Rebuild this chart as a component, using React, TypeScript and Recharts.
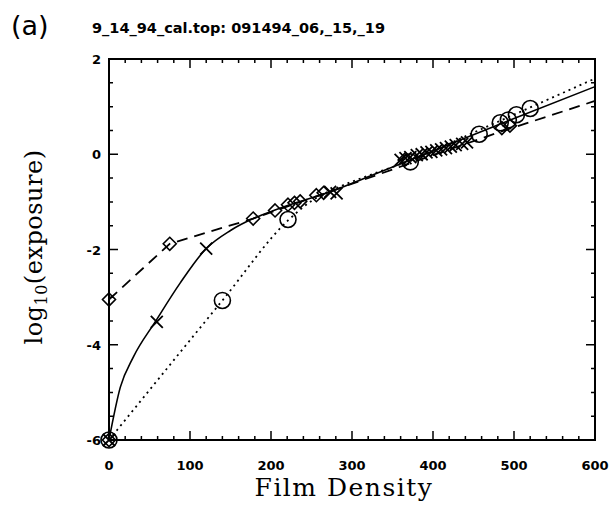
import React from 'react';
import { ComposedChart, Line, Scatter, XAxis, YAxis } from 'recharts';

// ---- data ----
const xDomain = [0, 600];
const yDomain = [-6, 2];
const xTicks = [0, 20, 40, 60, 80, 100, 120, 140, 160, 180, 200, 220, 240, 260, 280, 300, 320, 340, 360, 380, 400, 420, 440, 460, 480, 500, 520, 540, 560, 580, 600];
const yTicks = [-6, -5.5, -5, -4.5, -4, -3.5, -3, -2.5, -2, -1.5, -1, -0.5, 0, 0.5, 1, 1.5, 2];
const xMajor = [0, 100, 200, 300, 400, 500, 600];
const yMajor = [-6, -4, -2, 0, 2];

const solidCurve = [
  { x: 0, y: -6 }, { x: 14, y: -4.89 }, { x: 30, y: -4.26 }, { x: 57, y: -3.52 },
  { x: 88, y: -2.7 }, { x: 120, y: -1.98 }, { x: 150, y: -1.6 }, { x: 178, y: -1.35 }, { x: 205, y: -1.17 },
  { x: 236, y: -0.99 }, { x: 273, y: -0.79 }, { x: 320, y: -0.47 }, { x: 400, y: 0.07 }, { x: 500, y: 0.75 },
  { x: 600, y: 1.42 },
];
const dashedCurve = [
  { x: 0, y: -3.05 }, { x: 75, y: -1.88 }, { x: 178, y: -1.35 }, { x: 265, y: -0.83 },
  { x: 400, y: -0.02 }, { x: 483, y: 0.47 }, { x: 600, y: 1.12 },
];
const dottedCurve = [
  { x: 0, y: -6 }, { x: 140, y: -3.07 }, { x: 221, y: -1.39 }, { x: 250, y: -0.98 }, { x: 285, y: -0.68 },
  { x: 320, y: -0.45 }, { x: 372, y: -0.13 }, { x: 460, y: 0.53 }, { x: 600, y: 1.59 },
];
const crossMarks = [
  { x: 0, y: -6 }, { x: 59, y: -3.52 }, { x: 120, y: -1.98 }, { x: 273, y: -0.79 }, { x: 281, y: -0.82 },
  { x: 360, y: -0.12 }, { x: 366, y: -0.08 }, { x: 372, y: -0.06 }, { x: 380, y: -0.02 }, { x: 386, y: 0.0 },
  { x: 392, y: 0.04 }, { x: 398, y: 0.05 }, { x: 404, y: 0.08 }, { x: 410, y: 0.1 }, { x: 416, y: 0.13 },
  { x: 422, y: 0.16 }, { x: 428, y: 0.19 }, { x: 436, y: 0.22 }, { x: 442, y: 0.25 },
];
const diamondMarks = [
  { x: 0, y: -6 }, { x: 0, y: -3.05 }, { x: 75, y: -1.88 }, { x: 178, y: -1.35 }, { x: 205, y: -1.18 },
  { x: 221, y: -1.06 }, { x: 229, y: -1.02 }, { x: 236, y: -0.99 }, { x: 256, y: -0.86 }, { x: 265, y: -0.81 },
  { x: 365, y: -0.12 }, { x: 485, y: 0.55 }, { x: 495, y: 0.6 },
];
const circleMarks = [
  { x: 0, y: -6 }, { x: 140, y: -3.07 }, { x: 221, y: -1.37 }, { x: 372, y: -0.16 }, { x: 457, y: 0.42 },
  { x: 483, y: 0.66 }, { x: 493, y: 0.72 }, { x: 503, y: 0.83 }, { x: 520, y: 0.96 },
];

// frame and tick-mark positions derived from the domains / tick arrays
const frameBox = [
  { x: xDomain[0], y: yDomain[0] }, { x: xDomain[1], y: yDomain[0] }, { x: xDomain[1], y: yDomain[1] },
  { x: xDomain[0], y: yDomain[1] }, { x: xDomain[0], y: yDomain[0] },
];
const bottomMarks = xTicks.map((v) => ({ x: v, y: yDomain[0], major: xMajor.includes(v) }));
const topMarks = xTicks.map((v) => ({ x: v, y: yDomain[1], major: xMajor.includes(v) }));
const leftMarks = yTicks.map((v) => ({ x: xDomain[0], y: v, major: yMajor.includes(v) }));
const rightMarks = yTicks.map((v) => ({ x: xDomain[1], y: v, major: yMajor.includes(v) }));

const INK = '#000';
const tickFont = { fontFamily: '"DejaVu Sans", sans-serif', fontWeight: 700, fontSize: 13, fill: INK };

const BottomLabel = (p: any) => {
  const v = p.payload.value;
  if (!xMajor.includes(v)) return <g />;
  return <text x={p.x} y={p.y + 30} textAnchor="middle" {...tickFont}>{v}</text>;
};
const LeftLabel = (p: any) => {
  const v = p.payload.value;
  if (!yMajor.includes(v)) return <g />;
  return <text x={p.x - 8} y={p.y + 5} textAnchor="end" {...tickFont}>{v < 0 ? '-' + Math.abs(v) : v}</text>;
};

const tickLen = (p: any) => (p.payload && p.payload.major ? 9 : 4);
const UpMark = (p: any) => <path d={`M${p.cx},${p.cy}L${p.cx + 0.01},${p.cy - tickLen(p)}`} stroke={INK} strokeWidth={1.5} fill="none" />;
const DownMark = (p: any) => <path d={`M${p.cx},${p.cy}L${p.cx + 0.01},${p.cy + tickLen(p)}`} stroke={INK} strokeWidth={1.5} fill="none" />;
const RightwardMark = (p: any) => <path d={`M${p.cx},${p.cy}L${p.cx + tickLen(p)},${p.cy + 0.01}`} stroke={INK} strokeWidth={1.5} fill="none" />;
const LeftwardMark = (p: any) => <path d={`M${p.cx},${p.cy}L${p.cx - tickLen(p)},${p.cy + 0.01}`} stroke={INK} strokeWidth={1.5} fill="none" />;

const Diamond = (p: any) => {
  const { cx, cy } = p;
  const s = 6.5;
  return <polygon points={`${cx},${cy - s} ${cx + s},${cy} ${cx},${cy + s} ${cx - s},${cy}`} fill="none" stroke={INK} strokeWidth={1.6} />;
};
const Cross = (p: any) => {
  const { cx, cy } = p;
  const s = 6;
  return <path d={`M${cx - s},${cy - s}L${cx + s},${cy + s}M${cx - s},${cy + s}L${cx + s},${cy - s}`} stroke={INK} strokeWidth={1.8} fill="none" />;
};
const Ring = (p: any) => <circle cx={p.cx} cy={p.cy} r={8} fill="none" stroke={INK} strokeWidth={1.6} />;

export default function App() {
  return (
    <div style={{ position: 'absolute', left: 0, top: 0, width: 610, height: 508 }}>
      <ComposedChart width={610} height={508} margin={{ top: 59, right: 15, bottom: 38, left: 69 }}>
        <XAxis xAxisId="b" dataKey="x" type="number" domain={xDomain} ticks={xTicks} interval={0} height={30}
          tickSize={0} tickMargin={0} tick={BottomLabel} tickLine={false} axisLine={false} />
        <YAxis yAxisId="l" dataKey="y" type="number" domain={yDomain} ticks={yTicks} interval={0} width={40}
          tickSize={0} tickMargin={0} tick={LeftLabel} tickLine={false} axisLine={false} />

        <Line xAxisId="b" yAxisId="l" data={solidCurve} dataKey="y" type="monotone" stroke={INK} strokeWidth={1.6} dot={false} isAnimationActive={false} />
        <Line xAxisId="b" yAxisId="l" data={dashedCurve} dataKey="y" type="linear" stroke={INK} strokeWidth={1.8} strokeDasharray="11 7" dot={false} isAnimationActive={false} />
        <Line xAxisId="b" yAxisId="l" data={dottedCurve} dataKey="y" type="monotone" stroke={INK} strokeWidth={1.8} strokeDasharray="2 4" dot={false} isAnimationActive={false} />

        <Scatter xAxisId="b" yAxisId="l" data={diamondMarks} dataKey="y" shape={Diamond} isAnimationActive={false} />
        <Scatter xAxisId="b" yAxisId="l" data={crossMarks} dataKey="y" shape={Cross} isAnimationActive={false} />
        <Scatter xAxisId="b" yAxisId="l" data={circleMarks} dataKey="y" shape={Ring} isAnimationActive={false} />

        <Scatter xAxisId="b" yAxisId="l" data={bottomMarks} dataKey="y" shape={UpMark} isAnimationActive={false} />
        <Scatter xAxisId="b" yAxisId="l" data={topMarks} dataKey="y" shape={DownMark} isAnimationActive={false} />
        <Scatter xAxisId="b" yAxisId="l" data={leftMarks} dataKey="y" shape={RightwardMark} isAnimationActive={false} />
        <Scatter xAxisId="b" yAxisId="l" data={rightMarks} dataKey="y" shape={LeftwardMark} isAnimationActive={false} />
        <Line xAxisId="b" yAxisId="l" data={frameBox} dataKey="y" type="linear" stroke={INK} strokeWidth={2} strokeLinecap="square" dot={false} isAnimationActive={false} />
      </ComposedChart>

      <div style={{ position: 'absolute', left: 11, top: 12, fontFamily: '"DejaVu Sans", sans-serif', fontSize: 27, color: INK, lineHeight: 1 }}>(a)</div>
      <div style={{ position: 'absolute', left: 92, top: 21, fontFamily: '"DejaVu Sans", sans-serif', fontWeight: 700, fontSize: 14.5, color: INK, whiteSpace: 'nowrap', lineHeight: 1 }}>
        9_14_94_cal.top: 091494_06,_15,_19
      </div>
      <div style={{ position: 'absolute', left: 36, top: 247, transform: 'translate(-50%, -50%) rotate(-90deg)', fontFamily: '"DejaVu Serif", serif', fontSize: 24, letterSpacing: 0.5, color: INK, whiteSpace: 'nowrap', lineHeight: 1 }}>
        log<sub style={{ fontSize: 16 }}>10</sub>(exposure)
      </div>
      <div style={{ position: 'absolute', left: 344, top: 487, transform: 'translate(-50%, -50%)', fontFamily: '"DejaVu Serif", serif', fontSize: 25, letterSpacing: 1.5, color: INK, whiteSpace: 'nowrap', lineHeight: 1 }}>
        Film Density
      </div>
    </div>
  );
}
